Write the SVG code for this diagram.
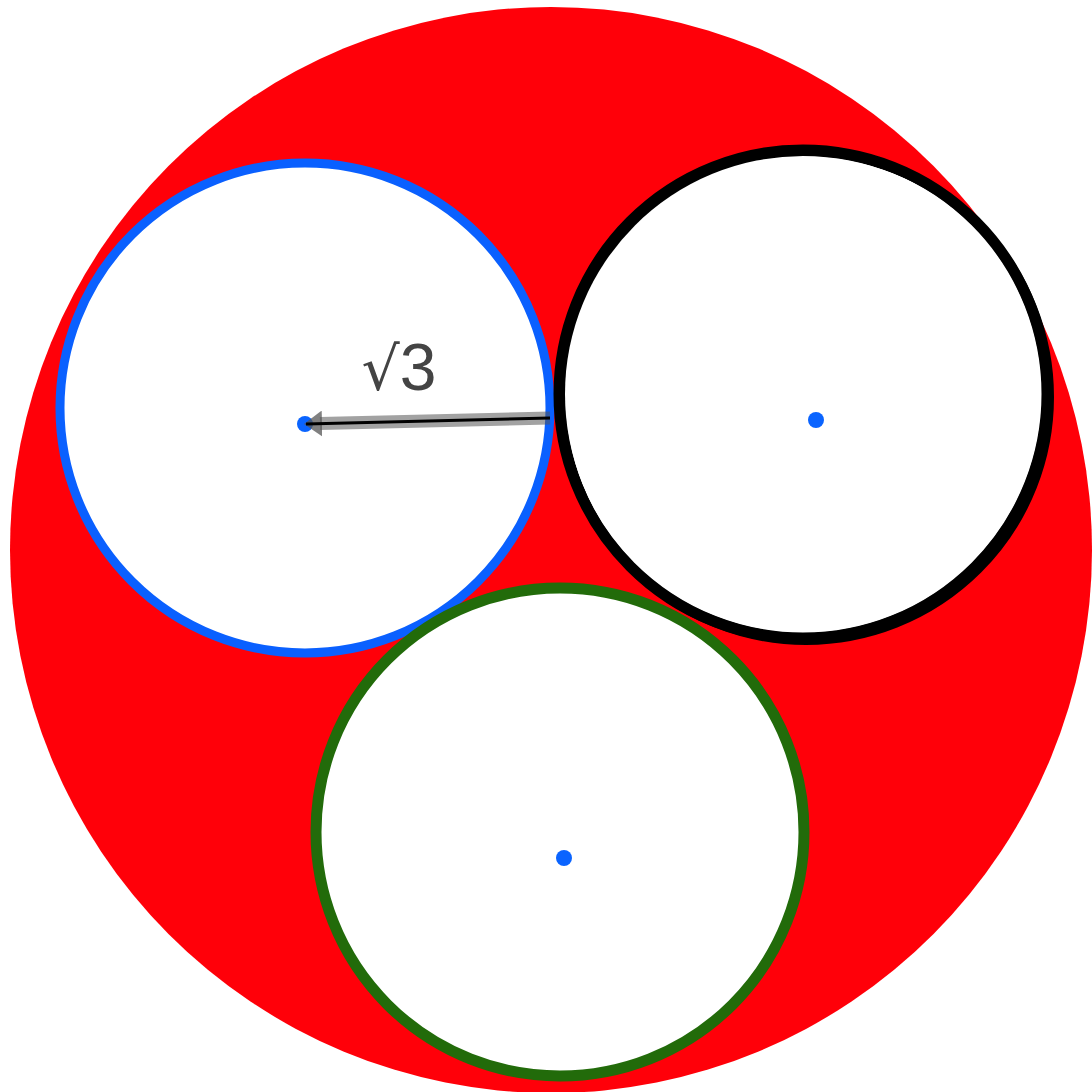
<svg xmlns="http://www.w3.org/2000/svg" width="1092" height="1092" viewBox="0 0 1092 1092">
<style>
.ring{fill:#fff}
.dot{fill:#0a64ff}
.lbl{font-family:"Liberation Sans",Arial,sans-serif;font-size:66px;fill:#444}
.rad{font-family:"DejaVu Sans","Noto Sans",sans-serif;font-size:60px}
</style>
<defs>
<marker id="ah" viewBox="0 0 18 26" refX="2" refY="13" markerWidth="18" markerHeight="26" markerUnits="userSpaceOnUse" orient="auto-start-reverse">
<path d="M0,0 L18,13 L0,26 z" fill="#555" fill-opacity="0.75"/>
</marker>
</defs>
<rect width="1092" height="1092" fill="#fff"/>
<g id="outer"><ellipse cx="551" cy="550" rx="541" ry="543" fill="#ff0009"/></g>
<g id="blue"><circle class="ring" cx="305" cy="408" r="245" stroke="#0a60ff" stroke-width="9"/></g>
<g id="black">
<circle class="ring" cx="803" cy="394" r="244" stroke="#000" stroke-width="11"/>
<circle cx="806" cy="397" r="244" fill="none" stroke="#000" stroke-width="8"/>
<circle cx="803" cy="394" r="238" fill="#fff"/>
</g>
<g id="green"><circle class="ring" cx="560" cy="832" r="244" stroke="#226b0a" stroke-width="11"/></g>
<g id="dots">
<circle class="dot" cx="305" cy="424" r="8"/>
<circle class="dot" cx="816" cy="420" r="8"/>
<circle class="dot" cx="564" cy="858" r="8"/>
</g>
<g id="connectors">
<line x1="550" y1="418" x2="320" y2="423.6" stroke="#555" stroke-opacity="0.55" stroke-width="13" marker-end="url(#ah)"/>
<line x1="550" y1="418" x2="306" y2="424" stroke="#000" stroke-width="3"/>
</g>
<text class="lbl" x="399" y="390" text-anchor="middle"><tspan class="rad">√</tspan>3</text>
</svg>
